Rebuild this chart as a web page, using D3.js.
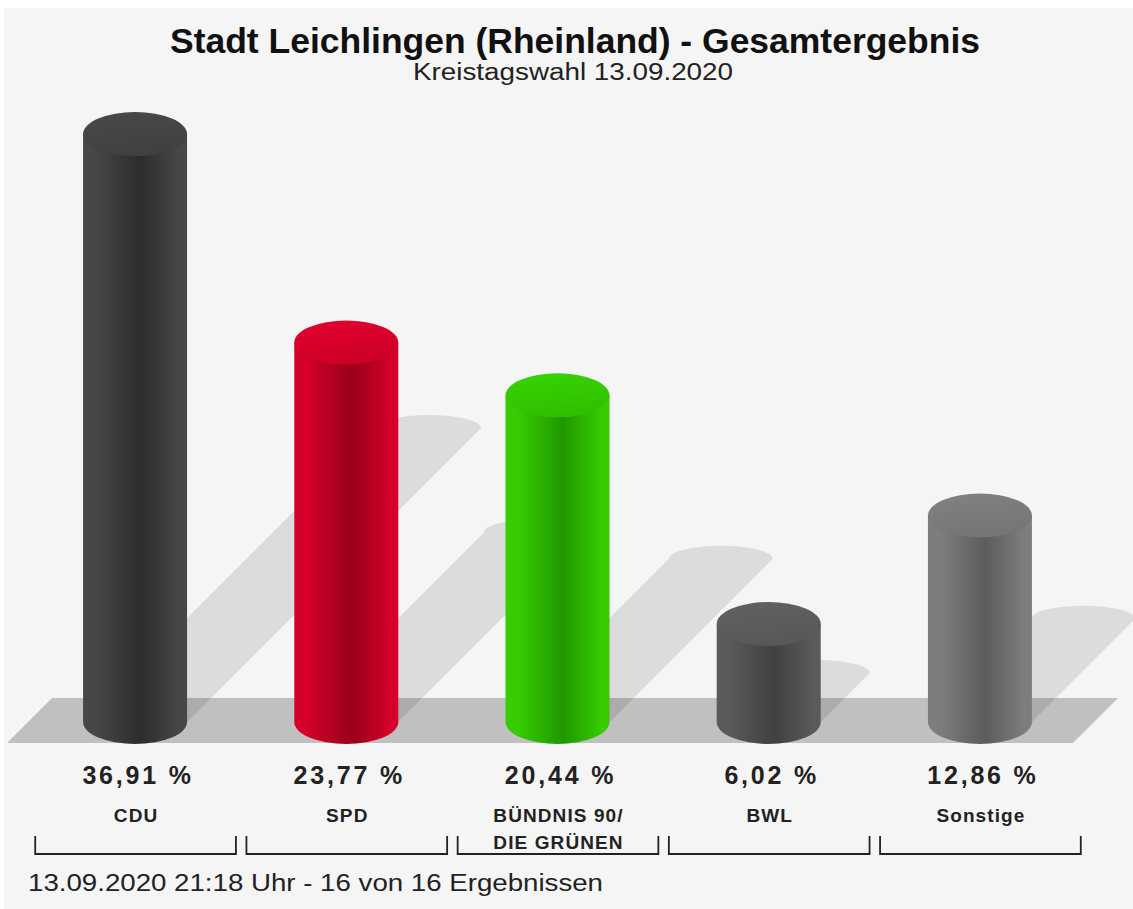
<!DOCTYPE html>
<html><head><meta charset="utf-8">
<script src="https://cdn.jsdelivr.net/npm/d3@7"></script>
<style>html,body{margin:0;padding:0;background:#fff;} svg{display:block;}</style>
</head><body><svg id="chart" width="1133" height="909"></svg>
<script>
// ---- data ----
const categories = ["CDU", "SPD", "BÜNDNIS 90/\nDIE GRÜNEN", "BWL", "Sonstige"];
const values = [36.91, 23.77, 20.44, 6.02, 12.86];
const valueLabels = ["36,91 %", "23,77 %", "20,44 %", "6,02 %", "12,86 %"];
const edgeColors = ["#474747", "#d4002b", "#36cc00", "#5a5a5a", "#7d7d7d"];
const darkColors = ["#2c2c2c", "#98001a", "#1f9800", "#404040", "#5c5c5c"];
const topColors  = ["#444444", "#d6002b", "#33c800", "#5c5c5c", "#7a7a7a"];
const titleText = "Stadt Leichlingen (Rheinland) - Gesamtergebnis";
const subtitleText = "Kreistagswahl 13.09.2020";
const footerText = "13.09.2020 21:18 Uhr - 16 von 16 Ergebnissen";

// ---- layout ----
const W = 1133, H = 909;
const svg = d3.select("#chart");
const defs = svg.append("defs");
const FONT = "'Liberation Sans', Arial, Helvetica, sans-serif";

svg.append("rect").attr("x", 4).attr("y", 8).attr("width", W - 4).attr("height", H - 8).attr("fill", "#f5f5f5");

const x = d3.scaleBand().domain(categories).range([30, 1085]).paddingInner(0.045).paddingOuter(0.02);
const y = d3.scaleLinear().domain([0, 40]).range([719.5, 85.1]);
const base = 722;       // centre of the bottom ellipse
const r = 52, ry = 22;  // cylinder radius / ellipse half height
const floorTop = 698, floorBot = 743;

// floor
svg.append("path")
  .attr("d", `M7,${floorBot} L${7 + (floorBot - floorTop)},${floorTop} L1118,${floorTop} L${1118 - (floorBot - floorTop)},${floorBot} Z`)
  .attr("fill", "rgba(0,0,0,0.215)");

const data = categories.map((c, i) => ({c, v: values[i], label: valueLabels[i], i}));

// shadows
svg.append("g").selectAll("path").data(data).join("path")
  .attr("d", d => {
    const cx = x(d.c) + x.bandwidth() / 2;
    const yt = y(d.v);
    const s = (base - yt) / 2;
    return `M${cx - r},${base} L${cx - r + s},${base - s} A${r},13 0 0 1 ${cx + r + s},${base - s} L${cx + r},${base} Z`;
  })
  .attr("fill", "rgba(0,0,0,0.10)");

// gradients
data.forEach(d => {
  const g = defs.append("linearGradient").attr("id", "body" + d.i).attr("x1", 0).attr("x2", 1).attr("y1", 0).attr("y2", 0);
  g.append("stop").attr("offset", "0%").attr("stop-color", edgeColors[d.i]);
  g.append("stop").attr("offset", "12%").attr("stop-color", edgeColors[d.i]);
  g.append("stop").attr("offset", "55%").attr("stop-color", darkColors[d.i]);
  g.append("stop").attr("offset", "92%").attr("stop-color", edgeColors[d.i]);
  g.append("stop").attr("offset", "100%").attr("stop-color", edgeColors[d.i]);
  const t = defs.append("linearGradient").attr("id", "top" + d.i).attr("x1", 0.3).attr("x2", 0.6).attr("y1", 0).attr("y2", 1);
  t.append("stop").attr("offset", "0%").attr("stop-color", d3.color(topColors[d.i]).brighter(0.15));
  t.append("stop").attr("offset", "100%").attr("stop-color", d3.color(topColors[d.i]).darker(0.15));
});

// cylinders
const bars = svg.append("g").selectAll("g").data(data).join("g");
bars.append("path")
  .attr("d", d => {
    const cx = x(d.c) + x.bandwidth() / 2;
    const yt = y(d.v);
    return `M${cx - r},${yt} L${cx - r},${base} A${r},${ry} 0 0 0 ${cx + r},${base} L${cx + r},${yt} Z`;
  })
  .attr("fill", d => `url(#body${d.i})`);
bars.append("ellipse")
  .attr("cx", d => x(d.c) + x.bandwidth() / 2)
  .attr("cy", d => y(d.v))
  .attr("rx", r).attr("ry", ry)
  .attr("fill", d => `url(#top${d.i})`);

// value labels
svg.append("g").selectAll("text").data(data).join("text")
  .attr("x", d => x(d.c) + x.bandwidth() / 2 + 3)
  .attr("y", 784)
  .attr("text-anchor", "middle")
  .attr("font-family", FONT).attr("font-weight", "bold").attr("font-size", 25)
  .attr("letter-spacing", 2.8)
  .attr("fill", "#222")
  .text(d => d.label);

// category labels
svg.append("g").selectAll("text").data(data).join("text")
  .attr("x", d => x(d.c) + x.bandwidth() / 2 + 1)
  .attr("y", 822)
  .attr("text-anchor", "middle")
  .attr("font-family", FONT).attr("font-weight", "bold").attr("font-size", 19)
  .attr("letter-spacing", 1.1)
  .attr("fill", "#222")
  .selectAll("tspan").data(d => d.c.split("\n")).join("tspan")
  .attr("x", function() { return d3.select(this.parentNode).attr("x"); })
  .attr("dy", (s, j) => j === 0 ? 0 : 27)
  .text(s => s);

// brackets
svg.append("g").selectAll("path").data(data).join("path")
  .attr("d", d => {
    const x0 = x(d.c) + 1, x1 = x(d.c) + x.bandwidth();
    return `M${x0},836 V854 H${x1} V836`;
  })
  .attr("fill", "none").attr("stroke", "#222").attr("stroke-width", 1.8);

// titles
svg.append("text").attr("x", 575).attr("y", 53).attr("text-anchor", "middle")
  .attr("font-family", FONT).attr("font-weight", "bold").attr("font-size", 35)
  .attr("textLength", 810).attr("lengthAdjust", "spacingAndGlyphs")
  .attr("fill", "#111").text(titleText);
svg.append("text").attr("x", 573).attr("y", 80).attr("text-anchor", "middle")
  .attr("font-family", FONT).attr("font-size", 23)
  .attr("textLength", 320).attr("lengthAdjust", "spacingAndGlyphs")
  .attr("fill", "#222").text(subtitleText);
svg.append("text").attr("x", 28).attr("y", 891)
  .attr("font-family", FONT).attr("font-size", 23)
  .attr("textLength", 575).attr("lengthAdjust", "spacingAndGlyphs")
  .attr("fill", "#222").text(footerText);
</script>
</body></html>
